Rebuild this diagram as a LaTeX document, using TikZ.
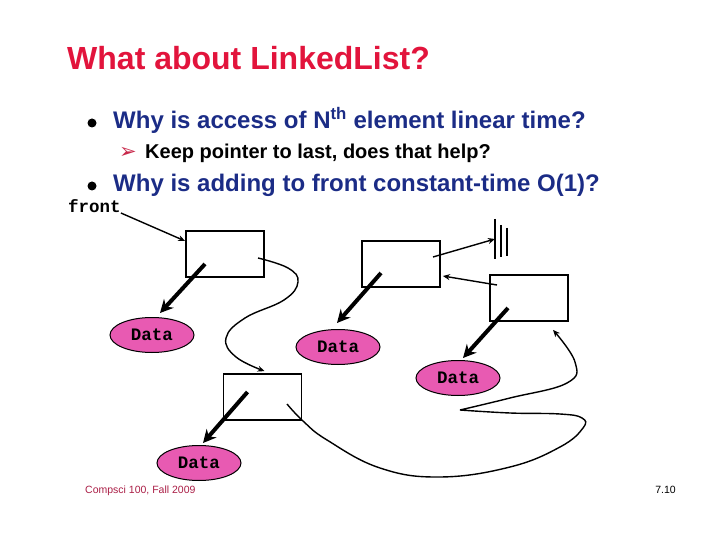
\documentclass[tikz,border=0pt]{standalone}
\usepackage{fontspec}
\setmainfont{Liberation Sans}
\setmonofont{Liberation Mono}
\newfontfamily\symfont{DejaVu Sans}
\usetikzlibrary{arrows.meta,positioning,calc,shapes.geometric}

\definecolor{titlered}{RGB}{226,20,60}
\definecolor{bulletblue}{RGB}{27,44,134}
\definecolor{arrowred}{RGB}{200,40,74}
\definecolor{footred}{RGB}{170,30,70}
\definecolor{datapink}{RGB}{232,90,178}

\begin{document}
\begin{tikzpicture}[x=1pt,y=-1pt,
    cell/.style={draw, line width=1.8pt, minimum width=78pt, minimum height=46pt, inner sep=0pt},
    datanode/.style={ellipse, draw, line width=1pt, fill=datapink, minimum width=84pt, minimum height=35pt,
        inner sep=0pt, font=\ttfamily\bfseries\fontsize{17.5}{20}\selectfont},
    dataptr/.style={line width=4pt, -{Stealth[length=13pt,width=13pt]}},
    link/.style={line width=1.4pt, -{Stealth[length=7pt,width=6pt]}},
    txt/.style={anchor=base west, inner sep=0pt}]
    \useasboundingbox (0,0) rectangle (720,540);

    % Title and bullets
    \node[txt, font=\bfseries\fontsize{32}{36}\selectfont, text=titlered] (title) at (67,70) {What about LinkedList?};
    \node[circle, fill, minimum size=9pt, inner sep=0pt] (dot1) at (92,123) {};
    \node[txt, font=\bfseries\fontsize{24}{28}\selectfont, text=bulletblue] (q1) at (113,129)
        {Why is access of N\textsuperscript{th} element linear time?};
    \node[text=arrowred, font=\symfont\fontsize{21}{22}\selectfont, inner sep=0pt] (tip1) at (128,153) {➢};
    \node[txt, font=\bfseries\fontsize{20}{24}\selectfont] (q1a) at (145,159) {Keep pointer to last, does that help?};
    \node[circle, fill, minimum size=9pt, inner sep=0pt] (dot2) at (92,186) {};
    \node[txt, font=\bfseries\fontsize{24}{28}\selectfont, text=bulletblue] (q2) at (113,192)
        {Why is adding to front constant-time O(1)?};

    % Boxes
    \node[cell] (box1) at (225,254) {};
    \node[cell] (box2) at (401,264) {};
    \node[cell] (box3) at (529,298) {};
    \node[cell] (box4) at (262.5,397) {};

    % Data
    \node[datanode] (data1) at (152,335) {Data};
    \node[datanode] (data2) at (338,347) {Data};
    \node[datanode] (data3) at (458,378) {Data};
    \node[datanode] (data4) at (199,463) {Data};

    \draw[dataptr] ($(box1.center)+(-20,10)$) -- ($(data1.north)+(8,-4)$);
    \draw[dataptr] ($(box2.center)+(-20,9)$) -- ($(data2.north)+(-1,-6)$);
    \draw[dataptr] ($(box3.center)+(-21,10)$) -- ($(data3.north)+(5,-2)$);
    \draw[dataptr] ($(box4.center)+(-15,-5)$) -- ($(data4.north)+(4,-2)$);

    % front pointer
    \node[txt, font=\ttfamily\bfseries\fontsize{17.5}{20}\selectfont] (front) at (68,213) {front};
    \draw[link] (front.base east) -- ($(box1.west)+(0,-13)$);

    % next links
    \coordinate (n1) at ($(box1.center)+(33,4)$);
    \coordinate (n4) at ($(box4.center)+(24.5,7)$);
    \coordinate (n3) at ($(box3.center)+(-32,-13)$);
    \coordinate (n2) at ($(box2.center)+(32,-7)$);
    \coordinate (in4) at ($(box4.north)+(2,-2)$);
    \coordinate (in3) at ($(box3.south)+(24,8)$);
    \coordinate (gnd) at (495,239);

    \draw[link] plot[smooth, tension=0.7] coordinates {(n1) (288,268) (298,282) (284,300) (245,318) (226,338) (236,357) (in4)};
    \draw[link]
        plot[smooth, tension=0.7] coordinates {(n4) (303,421) (327,440) (380,468) (440,477) (510,467) (560,447) (583,428) (582,418) (560,414) (510,413) (460,410)}
        plot[smooth, tension=0.7] coordinates {(460,410) (510,398) (567,383) (575,362) (in3)};
    \draw[link] (n3) -- ($(box2.east)+(2,12)$);
    \draw[link] (n2) -- (gnd);

    % null
    \draw[line width=2pt] (495,219) -- (495,259);
    \draw[line width=2pt] (501,225) -- (501,257);
    \draw[line width=2pt] (507,228) -- (507,256);

    % Footer
    \node[txt, font=\fontsize{10.5}{12}\selectfont, text=footred] (foot) at (85,493) {Compsci 100, Fall 2009};
    \node[anchor=base east, inner sep=0pt, font=\fontsize{10.5}{12}\selectfont] (page) at (676,493) {7.10};
\end{tikzpicture}
\end{document}
